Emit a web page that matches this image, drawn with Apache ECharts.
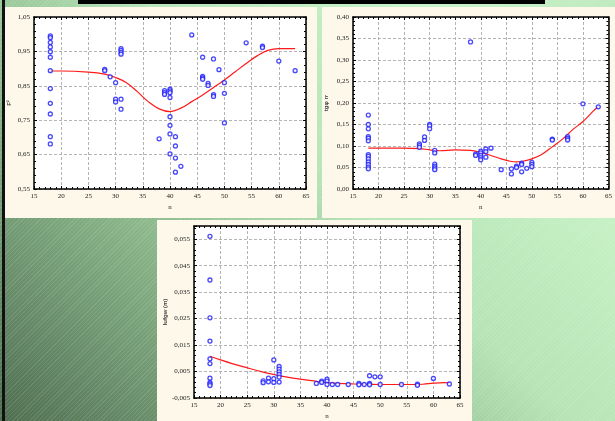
<!DOCTYPE html>
<html>
<head>
<meta charset="utf-8">
<script src="https://cdn.jsdelivr.net/npm/echarts@6/dist/echarts.min.js"></script>
<style>
  html, body {
    margin: 0;
    padding: 0;
    width: 615px;
    height: 421px;
    overflow: hidden;
  }
  body {
    background:
      repeating-linear-gradient(135deg, rgba(255,255,255,0.10) 0px, rgba(255,255,255,0.10) 1px, rgba(0,0,0,0) 1px, rgba(0,0,0,0) 3px),
      linear-gradient(45deg, #4e6d50 0%, #86b286 30%, #b6e4b6 55%, #c6f2c6 80%, #bfeabf 100%);
  }
  #chart {
    width: 615px;
    height: 421px;
  }
</style>
</head>
<body>
<div id="chart"></div>
<script>
// top-left plot
const n1 = [18, 18, 18, 18, 18, 18, 18, 18, 18, 18, 18, 18, 28, 28, 29, 30, 30, 30, 31, 31, 31, 31, 31, 31,
  38, 39, 39, 39, 40, 40, 40, 40, 40, 40, 40, 40, 41, 41, 41, 41, 42, 44, 46, 46, 46, 46, 47, 47,
  48, 48, 48, 49, 50, 50, 50, 54, 57, 57, 60, 63];
const v1 = [0.995, 0.990, 0.976, 0.963, 0.949, 0.933, 0.894, 0.842, 0.799, 0.768, 0.702, 0.681,
  0.898, 0.894, 0.876, 0.859, 0.811, 0.803, 0.958, 0.953, 0.947, 0.942, 0.811, 0.782,
  0.696, 0.836, 0.830, 0.825, 0.840, 0.835, 0.830, 0.816, 0.760, 0.735, 0.710, 0.652,
  0.702, 0.675, 0.640, 0.599, 0.616, 0.998, 0.933, 0.877, 0.873, 0.869, 0.857, 0.851,
  0.928, 0.824, 0.819, 0.897, 0.859, 0.828, 0.742, 0.975, 0.965, 0.961, 0.922, 0.894];
const fitN1 = [18, 20, 25, 28, 30, 32, 34, 36, 38, 40, 42, 44, 46, 48, 50, 52, 54, 56, 58, 60, 63];
const fitV1 = [0.893, 0.893, 0.890, 0.884, 0.874, 0.859, 0.833, 0.804, 0.783, 0.775, 0.785, 0.804,
  0.823, 0.845, 0.867, 0.891, 0.915, 0.937, 0.953, 0.958, 0.958];

// top-right plot
const n2 = [18, 18, 18, 18, 18, 18, 18, 18, 18, 18, 18, 18, 18, 28, 28, 28, 29, 29, 30, 30, 30,
  31, 31, 31, 31, 31, 31, 38, 39, 39, 40, 40, 40, 40, 40, 41, 41, 41, 42, 44, 46, 46, 47, 47,
  48, 48, 48, 49, 50, 50, 50, 54, 54, 57, 57, 57, 60, 63];
const v2 = [0.172, 0.150, 0.140, 0.122, 0.118, 0.112, 0.080, 0.076, 0.070, 0.063, 0.057, 0.051, 0.047,
  0.105, 0.101, 0.097, 0.121, 0.113, 0.150, 0.147, 0.140,
  0.090, 0.084, 0.058, 0.053, 0.049, 0.045, 0.342, 0.081, 0.078, 0.088, 0.084, 0.078, 0.073, 0.068,
  0.093, 0.087, 0.074, 0.095, 0.045, 0.047, 0.035, 0.053, 0.050,
  0.060, 0.057, 0.040, 0.048, 0.062, 0.057, 0.052, 0.116, 0.114, 0.122, 0.118, 0.114, 0.198, 0.191];
const fitN2 = [18, 25, 28, 30, 32, 35, 38, 40, 42, 44, 46, 47, 48, 50, 52, 54, 56, 58, 60, 62, 63];
const fitV2 = [0.095, 0.095, 0.094, 0.091, 0.089, 0.091, 0.090, 0.085, 0.078, 0.070, 0.064, 0.063,
  0.064, 0.070, 0.081, 0.098, 0.116, 0.138, 0.157, 0.181, 0.192];

// bottom plot
const n3 = [18, 18, 18, 18, 18, 18, 18, 18, 18, 18, 28, 28, 29, 29, 30, 30, 30, 31, 31, 31, 31, 31, 31,
  38, 39, 39, 40, 40, 40, 41, 42, 44, 46, 46, 47, 48, 48, 48, 49, 50, 50, 54, 57, 57, 60, 63];
const v3 = [0.0561, 0.0396, 0.0253, 0.0165, 0.0098, 0.0080, 0.0025, 0.0008, 0.0003, -0.0003,
  0.0015, 0.0008, 0.0025, 0.0011, 0.0094, 0.0023, 0.0009,
  0.0069, 0.0059, 0.0049, 0.0039, 0.0029, 0.0010,
  0.0005, 0.0014, 0.0009, 0.0021, 0.0014, 0.0001, 0.0001, 0.0001, 0.0001, 0.0005, 0.0000, 0.0001,
  0.0034, 0.0005, 0.0000, 0.0030, 0.0030, 0.0001, 0.0001, 0.0002, -0.0002, 0.0024, 0.0003];
const fitN3 = [18, 20, 22, 25, 28, 30, 32, 35, 38, 40, 42, 45, 50, 55, 58, 60, 62, 63];
const fitV3 = [0.0108, 0.0094, 0.0081, 0.0064, 0.0048, 0.0039, 0.0031, 0.0021, 0.0013, 0.0008,
  0.0005, 0.0003, 0.0001, 0.0001, 0.0002, 0.0006, 0.0008, 0.0007];

const xTicks = { min: 15, max: 65, interval: 5 };
const yTicks = [
  { min: 0.55, max: 1.05, interval: 0.1, digits: 2 },
  { min: 0, max: 0.4, interval: 0.05, digits: 2 },
  { min: -0.005, max: 0.06, interval: 0.01, digits: 3 }
];
const yNames = ["F²", "tgφ rr", "lufgw (m)"];

const pairs = (xs, ys) => xs.map((x, i) => [x, ys[i]]);
const fmt = (d) => (v) => v.toFixed(d).replace(".", ",");
const labelFont = { fontFamily: "Liberation Serif", fontSize: 7, color: "#222" };
const gridLine = { show: true, lineStyle: { color: "#b4b4b4", type: [3, 2], width: 1 } };
const frameLine = { show: true, onZero: false, lineStyle: { color: "#000", width: 1.5 } };

const grids = [
  { left: 34, top: 17, width: 272, height: 172 },
  { left: 353, top: 17, width: 257, height: 172 },
  { left: 194, top: 226, width: 266, height: 173 }
];
const nameGaps = [22, 24, 26];

const xAxis = [];
const yAxis = [];
grids.forEach((g, i) => {
  // bottom + left axes with labels
  xAxis.push({
    gridIndex: i, type: "value", ...xTicks,
    name: "n", nameLocation: "middle", nameGap: 15,
    nameTextStyle: { fontFamily: "Liberation Serif", fontSize: 7, color: "#333" },
    axisLine: frameLine,
    axisTick: { inside: true, length: 3, lineStyle: { color: "#000" } },
    minorTick: { show: true, splitNumber: 5, length: 2, lineStyle: { color: "#000" } },
    axisLabel: { ...labelFont, margin: 4 },
    splitLine: gridLine
  });
  const yt = yTicks[i];
  yAxis.push({
    gridIndex: i, type: "value", min: yt.min, max: yt.max, interval: yt.interval,
    name: yNames[i], nameLocation: "middle", nameGap: nameGaps[i], nameRotate: 90,
    nameTextStyle: { fontFamily: "Liberation Sans", fontSize: 6, color: "#444", fontWeight: "bold" },
    axisLine: frameLine,
    axisTick: { inside: true, length: 3, lineStyle: { color: "#000" } },
    minorTick: { show: true, splitNumber: 5, length: 2, lineStyle: { color: "#000" } },
    axisLabel: { ...labelFont, margin: 4, formatter: fmt(yt.digits), showMaxLabel: i !== 2 },
    splitLine: gridLine
  });
  // top + right frame
  xAxis.push({
    gridIndex: i, type: "value", ...xTicks, position: "top",
    axisLine: frameLine,
    axisTick: { inside: true, length: 3, lineStyle: { color: "#000" } },
    minorTick: { show: true, splitNumber: 5, length: 2, lineStyle: { color: "#000" } },
    axisLabel: { show: false }, splitLine: { show: false }
  });
  yAxis.push({
    gridIndex: i, type: "value", min: yt.min, max: yt.max, interval: yt.interval, position: "right",
    axisLine: frameLine,
    axisTick: { inside: true, length: 3, lineStyle: { color: "#000" } },
    minorTick: { show: true, splitNumber: 5, length: 2, lineStyle: { color: "#000" } },
    axisLabel: { show: false }, splitLine: { show: false }
  });
});

const scatterSet = [pairs(n1, v1), pairs(n2, v2), pairs(n3, v3)];
const fitSet = [pairs(fitN1, fitV1), pairs(fitN2, fitV2), pairs(fitN3, fitV3)];

const series = [];
grids.forEach((g, i) => {
  series.push({
    type: "line", xAxisIndex: i * 2, yAxisIndex: i * 2,
    data: fitSet[i], smooth: 0.4, showSymbol: false,
    lineStyle: { color: "#ff1a1a", width: 1.2 },
    z: 3
  });
  series.push({
    type: "scatter", xAxisIndex: i * 2, yAxisIndex: i * 2,
    data: scatterSet[i], symbol: "circle", symbolSize: 4,
    itemStyle: { color: "#ffffff", borderColor: "#1a1aff", borderWidth: 1.3 },
    z: 4
  });
});

const myChart = echarts.init(document.getElementById("chart"));
myChart.setOption({
  animation: false,
  grid: grids.map((g) => ({ ...g, show: true, backgroundColor: "#ffffff", borderWidth: 0 })),
  graphic: [
    { type: "rect", z: -10, shape: { x: 5, y: 7, width: 312, height: 211 }, style: { fill: "#fdf8ea" } },
    { type: "rect", z: -10, shape: { x: 322, y: 7, width: 293, height: 211 }, style: { fill: "#fdf8ea" } },
    { type: "rect", z: -10, shape: { x: 157, y: 220, width: 315, height: 201 }, style: { fill: "#fdf8ea" } },
    { type: "rect", z: -10, shape: { x: 78, y: 0, width: 467, height: 4 }, style: { fill: "#000" } },
    { type: "rect", z: -10, shape: { x: 2, y: 0, width: 3, height: 421 }, style: { fill: "#111" } }
  ],
  xAxis: xAxis,
  yAxis: yAxis,
  series: series
});
</script>
</body>
</html>
